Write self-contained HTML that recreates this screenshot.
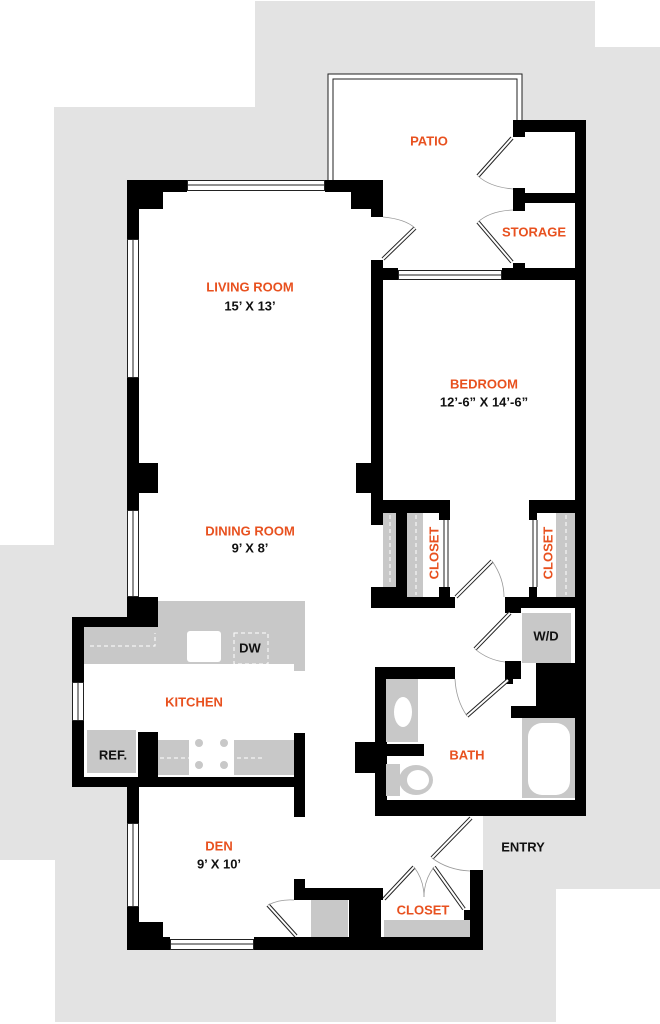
<!DOCTYPE html>
<html><head><meta charset="utf-8"><style>
html,body{margin:0;padding:0;background:#fff;}
svg{display:block;}
text{font-family:"Liberation Sans",sans-serif;font-size:13px;font-weight:bold;text-anchor:middle;dominant-baseline:middle;}
.o{fill:#e8511f;}
.k{fill:#111;}
</style></head><body>
<svg width="660" height="1024" viewBox="0 0 660 1024" xmlns="http://www.w3.org/2000/svg">
<polygon fill="#e3e3e3" points="255,1 595,1 595,47 660,47 660,889 556,889 556,1022 55,1022 55,860 0,860 0,545 54,545 54,107 255,107"/>
<polygon fill="#fff" points="127,180 383,180 383,260 328,260 328,74 522,74 522,120 586,120 586,816 483,816 483,950 127,950 127,787 72,787 72,617 127,617"/>
<g fill="none" stroke="#222" stroke-width="1">
<polyline points="328,180 328,74 522,74 522,120"/>
<polyline points="333,180 333,79 517,79 517,120"/>
</g>
<g fill="#000">
<rect x="127" y="180" width="60" height="12"/>
<rect x="127" y="192" width="36" height="17"/>
<rect x="127" y="180" width="12" height="59"/>
<rect x="325" y="180" width="58" height="12"/>
<rect x="351" y="192" width="32" height="17"/>
<rect x="371" y="209" width="12" height="8"/>
<rect x="127" y="378" width="12" height="132"/>
<rect x="127" y="463" width="31" height="30"/>
<rect x="356" y="463" width="15" height="30"/>
<rect x="371" y="260" width="12" height="265"/>
<rect x="371" y="268" width="27" height="12"/>
<rect x="513" y="120" width="73" height="12"/>
<rect x="513" y="120" width="12" height="17"/>
<rect x="575" y="120" width="11" height="696"/>
<rect x="513" y="193" width="62" height="10"/>
<rect x="513" y="188" width="12" height="23"/>
<rect x="502" y="268" width="73" height="12"/>
<rect x="513" y="263" width="12" height="17"/>
<rect x="371" y="500" width="79" height="13"/>
<rect x="439" y="513" width="11" height="7"/>
<rect x="371" y="587" width="25" height="21"/>
<rect x="371" y="597" width="84" height="11"/>
<rect x="439" y="587" width="11" height="10"/>
<rect x="396" y="513" width="11" height="84"/>
<rect x="529" y="500" width="46" height="13"/>
<rect x="529" y="513" width="8" height="7"/>
<rect x="529" y="587" width="8" height="10"/>
<rect x="505" y="597" width="70" height="11"/>
<rect x="505" y="597" width="16" height="16"/>
<rect x="375" y="667" width="80" height="12"/>
<rect x="375" y="667" width="12" height="149"/>
<rect x="355" y="742" width="32" height="31"/>
<rect x="375" y="800" width="211" height="16"/>
<rect x="536" y="663" width="39" height="57"/>
<rect x="511" y="706" width="30" height="12"/>
<rect x="505" y="661" width="16" height="23"/>
<rect x="386" y="744" width="38" height="12"/>
<rect x="127" y="597" width="31" height="30"/>
<rect x="72" y="617" width="86" height="10"/>
<rect x="72" y="617" width="12" height="65"/>
<rect x="72" y="721" width="12" height="66"/>
<rect x="72" y="777" width="233" height="10"/>
<rect x="138" y="732" width="20" height="55"/>
<rect x="294" y="733" width="11" height="84"/>
<rect x="127" y="787" width="12" height="36"/>
<rect x="127" y="907" width="12" height="43"/>
<rect x="127" y="922" width="36" height="28"/>
<rect x="127" y="937" width="43" height="13"/>
<rect x="254" y="937" width="229" height="13"/>
<rect x="294" y="879" width="11" height="21"/>
<rect x="294" y="888" width="89" height="12"/>
<rect x="349" y="888" width="32" height="49"/>
<rect x="470" y="870" width="13" height="80"/>
<rect x="464" y="910" width="8" height="15"/>
</g>
<g fill="#fff" stroke="#222" stroke-width="1">
<rect x="187.5" y="180.5" width="137" height="10"/><line x1="187" y1="185" x2="325" y2="185"/>
<rect x="127.5" y="239.5" width="11" height="138"/><line x1="133" y1="239" x2="133" y2="378"/>
<rect x="127.5" y="510.5" width="11" height="86"/><line x1="133" y1="510" x2="133" y2="597"/>
<rect x="398.5" y="270.5" width="103" height="9"/><line x1="398" y1="275" x2="502" y2="275"/>
<rect x="72.5" y="682.5" width="11" height="38"/><line x1="78" y1="682" x2="78" y2="721"/>
<rect x="127.5" y="823.5" width="11" height="83"/><line x1="133" y1="823" x2="133" y2="907"/>
<rect x="170.5" y="939.5" width="83" height="10"/><line x1="170" y1="944" x2="254" y2="944"/>
</g>
<g fill="#c8c8c8">
<rect x="158" y="601" width="147" height="26"/>
<rect x="84" y="627" width="210" height="37"/>
<rect x="294" y="627" width="11" height="44"/>
<rect x="87" y="730" width="49" height="43"/>
<rect x="158" y="740" width="136" height="35"/>
<rect x="522" y="613" width="49" height="50"/>
<rect x="386" y="679" width="32" height="63"/>
<rect x="522" y="718" width="53" height="80"/>
<rect x="386" y="764" width="14" height="32"/>
<rect x="311" y="900" width="37" height="37"/>
<rect x="384" y="920" width="86" height="17"/>
<rect x="383" y="513" width="13" height="74"/>
<rect x="407" y="513" width="16" height="84"/>
<rect x="556" y="513" width="19" height="84"/>
</g>
<g fill="#fff">
<rect x="187" y="631" width="34" height="31" rx="3"/>
<rect x="189" y="733" width="45" height="42"/>
<ellipse cx="403" cy="712" rx="9" ry="15"/>
<rect x="528" y="723" width="42" height="72" rx="14"/>
<rect x="513" y="679" width="23" height="27"/>
</g>
<g fill="#c8c8c8"><circle cx="199" cy="743" r="4"/><circle cx="224" cy="743" r="4"/><circle cx="199" cy="765" r="4"/><circle cx="224" cy="765" r="4"/></g>
<ellipse cx="416" cy="780" rx="17" ry="15" fill="#c8c8c8"/><ellipse cx="418" cy="780" rx="11" ry="10" fill="#fff"/>
<g fill="none" stroke="#fff" stroke-width="1" stroke-dasharray="4,3">
<polyline points="90,646 155,646 155,633"/>
<rect x="234" y="633" width="34" height="31"/>
<line x1="160" y1="758" x2="263" y2="758"/>
<line x1="390" y1="515" x2="390" y2="585"/>
<line x1="416" y1="515" x2="416" y2="595"/>
<line x1="566" y1="515" x2="566" y2="595"/>
</g>
<g stroke="#222" stroke-width="1" fill="none">
<line x1="444" y1="520" x2="444" y2="587"/><line x1="448" y1="520" x2="448" y2="587"/>
<line x1="533" y1="520" x2="533" y2="587"/><line x1="537" y1="520" x2="537" y2="587"/>
</g>
<g stroke="#222" stroke-width="4">
<line x1="383" y1="259" x2="415" y2="228"/>
<line x1="512" y1="138" x2="478" y2="176"/>
<line x1="512" y1="262" x2="478" y2="222"/>
<line x1="456" y1="597" x2="492" y2="561"/>
<line x1="510" y1="613" x2="475" y2="649"/>
<line x1="508" y1="680" x2="467" y2="716"/>
<line x1="471" y1="818" x2="432" y2="858"/>
<line x1="384" y1="899" x2="414" y2="867"/>
<line x1="464" y1="909" x2="434" y2="867"/>
<line x1="296" y1="936" x2="268" y2="905"/>
</g>
<g stroke="#fff" stroke-width="2">
<line x1="383" y1="259" x2="415" y2="228"/>
<line x1="512" y1="138" x2="478" y2="176"/>
<line x1="512" y1="262" x2="478" y2="222"/>
<line x1="456" y1="597" x2="492" y2="561"/>
<line x1="510" y1="613" x2="475" y2="649"/>
<line x1="508" y1="680" x2="467" y2="716"/>
<line x1="471" y1="818" x2="432" y2="858"/>
<line x1="384" y1="899" x2="414" y2="867"/>
<line x1="464" y1="909" x2="434" y2="867"/>
<line x1="296" y1="936" x2="268" y2="905"/>
</g>
<g fill="none" stroke="#999" stroke-width="0.8">
<path d="M383,217 Q405,219 415,228"/>
<path d="M478,176 Q490,187 513,189"/>
<path d="M478,222 Q490,211 513,210"/>
<path d="M492,561 Q504,578 504,597"/>
<path d="M475,649 Q488,660 505,662"/>
<path d="M455,679 Q456,700 467,716"/>
<path d="M432,858 Q448,870 470,871"/>
<path d="M414,867 Q424,880 424,897"/>
<path d="M434,867 Q424,880 424,897"/>
<path d="M268,905 Q280,899 294,900"/>
</g>
<text x="429" y="142" class="o">PATIO</text>
<text x="534" y="233" class="o">STORAGE</text>
<text x="250" y="288" class="o">LIVING ROOM</text>
<text x="250" y="307" class="k">15’ X 13’</text>
<text x="484" y="385" class="o">BEDROOM</text>
<text x="484" y="403" class="k">12’-6” X 14’-6”</text>
<text x="250" y="532" class="o">DINING ROOM</text>
<text x="250" y="549" class="k">9’ X 8’</text>
<text x="435" y="553" class="o" transform="rotate(-90 435 553)">CLOSET</text>
<text x="549" y="553" class="o" transform="rotate(-90 549 553)">CLOSET</text>
<text x="546" y="637" class="k">W/D</text>
<text x="250" y="649" class="k">DW</text>
<text x="194" y="703" class="o">KITCHEN</text>
<text x="113" y="756" class="k">REF.</text>
<text x="467" y="756" class="o">BATH</text>
<text x="219" y="847" class="o">DEN</text>
<text x="219" y="865" class="k">9’ X 10’</text>
<text x="523" y="848" class="k">ENTRY</text>
<text x="423" y="911" class="o">CLOSET</text>
</svg>
</body></html>
